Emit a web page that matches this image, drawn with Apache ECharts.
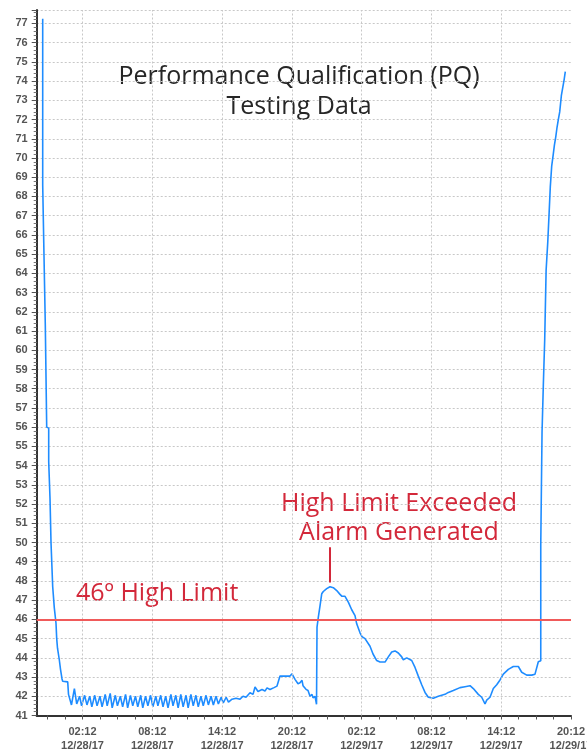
<!DOCTYPE html>
<html>
<head>
<meta charset="utf-8">
<script src="https://cdn.jsdelivr.net/npm/echarts@6/dist/echarts.min.js"></script>
<style>
  html, body { margin: 0; padding: 0; background: #fff; }
  #chart { width: 587px; height: 752px; }
</style>
</head>
<body>
<div id="chart"></div>
<script>
// x values are hours after 12/27/17 20:12
const hours = [
  2.576, 2.576, 2.688, 2.688, 2.800, 2.800, 2.920, 2.920, 3.092, 3.092, 3.204, 3.204, 3.290, 3.290,
  3.436, 3.436, 3.574, 3.574, 3.634, 3.720, 3.780, 3.849, 4.003, 4.107, 4.236, 4.296, 4.726, 4.795,
  4.86, 5.05, 5.30, 5.50, 5.75, 5.92, 6.18, 6.38, 6.62, 6.80, 7.05, 7.25, 7.50, 7.68, 7.95, 8.12,
  8.38, 8.55, 8.82, 9.00, 9.25, 9.45, 9.70, 9.88, 10.12, 10.32, 10.55, 10.75, 11.00, 11.18, 11.42,
  11.62, 11.85, 12.05, 12.30, 12.48, 12.72, 12.92, 13.15, 13.35, 13.60, 13.78, 14.02, 14.22, 14.45,
  14.65, 14.90, 15.08, 15.32, 15.52, 15.75, 15.95, 16.18, 16.38, 16.62, 16.82, 17.05, 17.25, 17.48,
  17.68, 17.92, 18.10, 18.35, 18.55,
  18.853, 19.197, 19.541, 19.799, 20.057, 20.401, 20.659, 20.831, 21.089, 21.432, 21.690, 21.862,
  22.120, 22.464, 22.722, 22.980, 23.410, 23.840, 24.012, 24.270, 24.528, 24.700, 24.872, 24.958,
  25.216, 25.388, 25.560, 25.732, 25.818, 25.990, 26.119,
  26.162, 26.273, 26.420, 26.566, 26.703, 26.996, 27.279, 27.563, 27.856, 28.139, 28.311, 28.569,
  28.853, 29.145, 29.429, 29.575, 29.859, 30.031, 30.289, 30.719, 30.977, 31.295, 31.579, 32.009,
  32.292, 32.585, 32.869, 33.152, 33.445, 33.582, 33.875, 34.304, 34.588, 34.872, 35.164, 35.448,
  35.732, 36.162, 36.592, 37.167, 37.451, 37.881, 38.457, 38.887, 39.317, 39.601, 40.031, 40.323,
  40.607, 40.753, 41.037, 41.321, 41.613, 41.897, 42.181, 42.611, 43.041, 43.471, 43.763, 44.193,
  44.623, 44.906, 45.190,
  45.40, 45.40, 45.51, 45.51, 45.62, 45.62, 45.74, 45.74, 45.86, 45.86, 46.00, 46.00, 46.11, 46.11,
  46.22, 46.22, 46.34, 46.34, 46.46, 46.46, 46.57, 46.57, 46.69, 46.69, 46.80, 46.80, 46.91, 46.91,
  47.03, 47.03, 47.17, 47.17, 47.29, 47.29, 47.40, 47.40, 47.51, 47.51
];
const temps = [
  77.25, 68.6, 68.55, 64.9, 64.85, 61.3, 61.25, 56.0, 55.95, 54.2, 54.15, 52.3, 52.25, 50.0,
  49.95, 47.7, 47.65, 46.6, 46.5, 45.8, 45.0, 44.5, 43.9, 43.4, 42.9, 42.78, 42.75, 42.1,
  42.0, 41.55, 42.40, 41.60, 42.00, 41.50, 42.05, 41.55, 42.00, 41.45, 42.05, 41.50, 42.00, 41.45, 42.10, 41.50,
  42.15, 41.40, 42.05, 41.50, 42.00, 41.45, 42.10, 41.40, 42.05, 41.50, 42.00, 41.45, 42.05, 41.40, 42.00,
  41.50, 42.05, 41.45, 42.00, 41.50, 42.05, 41.45, 42.00, 41.40, 42.10, 41.50, 42.05, 41.40, 42.10,
  41.45, 42.05, 41.40, 42.10, 41.50, 42.05, 41.45, 42.00, 41.50, 42.05, 41.55, 42.00, 41.55, 42.00,
  41.60, 41.95, 41.65, 41.95, 41.70,
  41.85, 41.90, 41.85, 42.00, 41.95, 42.18, 42.10, 42.48, 42.25, 42.35, 42.27, 42.44,
  42.35, 42.45, 42.53, 43.05, 43.05, 43.05, 43.17, 42.88, 42.65, 42.70, 42.83, 42.55,
  42.36, 42.30, 42.00, 42.10, 41.92, 42.00, 41.58,
  45.6, 46.1, 46.7, 47.33, 47.45, 47.6, 47.7, 47.65, 47.5, 47.3, 47.2, 47.2,
  46.9, 46.5, 46.2, 45.77, 45.3, 45.1, 45.0, 44.6, 44.2, 43.86, 43.78, 43.78,
  44.05, 44.3, 44.36, 44.25, 44.05, 43.9, 44.0, 43.86, 43.5, 43.05, 42.6, 42.2,
  41.95, 41.9, 42.0, 42.1, 42.2, 42.3, 42.45, 42.5, 42.55, 42.4, 42.1, 41.95,
  41.6, 41.8, 41.95, 42.4, 42.6, 42.85, 43.15, 43.4, 43.55, 43.55, 43.25, 43.1,
  43.1, 43.15, 43.8,
  43.85, 49.9, 49.95, 55.75, 55.8, 58.17, 58.2, 60.56, 60.6, 64.15, 64.2, 65.6, 65.65, 67.03,
  67.1, 68.5, 68.55, 69.58, 69.6, 70.12, 70.15, 70.66, 70.7, 71.1, 71.15, 71.6, 71.65, 72.0,
  72.05, 72.4, 72.45, 73.24, 73.3, 73.66, 73.7, 74.04, 74.1, 74.5
];

const tickHours = [3, 4.5, 6, 7.5, 9, 10.5, 12, 13.5, 15, 16.5, 18, 19.5, 21, 22.5, 24, 25.5,
  27, 28.5, 30, 31.5, 33, 34.5, 36, 37.5, 39, 40.5, 42, 43.5, 45, 46.5, 48];
const labelHours = [6, 12, 18, 24, 30, 36, 42, 48];
const labelTimes = ['02:12', '08:12', '14:12', '20:12', '02:12', '08:12', '14:12', '20:12'];
const labelDates = ['12/28/17', '12/28/17', '12/28/17', '12/28/17', '12/29/17', '12/29/17', '12/29/17', '12/29/17'];

const highLimit = 46;
const alarmHour = 27.28;
const alarmPointer = [49.75, 47.92];

let myChart = echarts.init(document.getElementById('chart'));

let gridLineStyle = { color: '#c8c8c8', width: 1, type: [2, 2] };
let red = '#d3283a';

let markData = labelHours.slice(0, -1).map(h => ({ xAxis: h, lineStyle: gridLineStyle }));
markData.push({ yAxis: highLimit, lineStyle: { color: '#f05a5a', width: 2, type: 'solid' } });
markData.push([
  { coord: [alarmHour, alarmPointer[0]], lineStyle: { color: red, width: 2, type: 'solid' } },
  { coord: [alarmHour, alarmPointer[1]] }
]);

myChart.setOption({
  animation: false,
  grid: { left: 36.7, right: 16, top: 10, bottom: 36.5, outerBoundsMode: 'none' },
  xAxis: {
    type: 'value',
    min: 2.06,
    max: 48,
    axisLine: { lineStyle: { color: '#333', width: 2 } },
    axisTick: { customValues: tickHours, length: 4, lineStyle: { color: '#555' } },
    axisLabel: {
      customValues: labelHours,
      margin: 9,
      color: '#555',
      fontFamily: 'Liberation Sans',
      fontWeight: 'bold',
      fontSize: 11,
      lineHeight: 14,
      alignMaxLabel: 'center',
      formatter: v => {
        let i = labelHours.indexOf(v);
        return labelTimes[i] + '\n' + labelDates[i];
      }
    },
    splitLine: { show: false }
  },
  yAxis: {
    type: 'value',
    min: 41,
    max: 77.7,
    interval: 1,
    axisLine: { show: true, lineStyle: { color: '#333', width: 2 } },
    axisTick: { show: true, length: 5, lineStyle: { color: '#555' } },
    minorTick: { show: true, splitNumber: 5, length: 3, lineStyle: { color: '#777' } },
    axisLabel: {
      margin: 9,
      color: '#555',
      fontFamily: 'Liberation Sans',
      fontWeight: 'bold',
      fontSize: 11,
      formatter: v => Number.isInteger(v) ? String(v) : ''
    },
    splitLine: { show: true, lineStyle: gridLineStyle }
  },
  series: [{
    type: 'line',
    data: hours.map((h, i) => [h, temps[i]]),
    showSymbol: false,
    lineStyle: { color: '#1e8cff', width: 1.6 },
    markLine: {
      silent: true,
      symbol: 'none',
      label: { show: false },
      data: markData
    }
  }],
  graphic: [
    {
      type: 'text', x: 299, y: 62,
      style: {
        text: 'Performance Qualification (PQ)\nTesting Data',
        textAlign: 'center',
        font: '25px "Open Sans"', lineHeight: 30, fill: '#262626'
      }
    },
    {
      type: 'text', x: 399, y: 489.5,
      style: {
        text: 'High Limit Exceeded\nAlarm Generated',
        textAlign: 'center',
        font: '25px "Open Sans"', lineHeight: 29, fill: red
      }
    },
    {
      type: 'text', x: 76, y: 581,
      style: {
        text: '46º High Limit',
        font: '25px "Open Sans"', fill: red
      }
    }
  ]
});
</script>
</body>
</html>
